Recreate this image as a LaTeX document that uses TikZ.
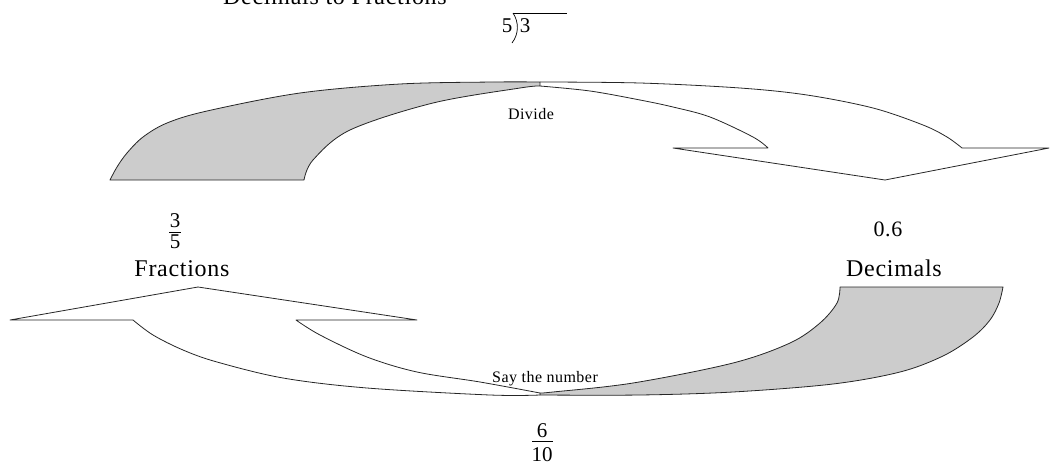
\documentclass[tikz,border=0pt]{standalone}
\usepackage{fontspec}
\setmainfont{Liberation Serif}
\newfontfamily\bigfam[LetterSpace=3]{Liberation Serif}
\newfontfamily\smallfam[LetterSpace=3]{Liberation Serif}
\definecolor{shade}{HTML}{CCCCCC}
\begin{document}
\begin{tikzpicture}[x=1pt,y=-1pt,
  outline/.style={draw=black!85, line width=0.8pt, line join=round},
  shaded/.style={outline, fill=shade},
  word/.style={font=\bigfam\fontsize{24}{28}\selectfont, inner sep=0pt, anchor=base},
  digit/.style={font=\bigfam\fontsize{22}{26}\selectfont, inner sep=0pt, anchor=base},
  plain/.style={font=\rmfamily\fontsize{21}{25}\selectfont, inner sep=0pt, anchor=base},
  smalltxt/.style={font=\smallfam\fontsize{16}{19}\selectfont, inner sep=0pt, anchor=base},
  fracbar/.style={draw=black, line width=0.8pt}]
\useasboundingbox (0,0) rectangle (1050,464);
\clip (0,0) rectangle (1050,464);

% top arrow: shaded back part
\path[shaded] plot[smooth,tension=0.55] coordinates {(110,180) (117,167) (127,153) (143,137) (167,123) (207,111) (300,93) (400,84) (493,82) (540,82)}
  -- plot[smooth,tension=0.55] coordinates {(540,86) (520,88) (433,103) (350,130) (313,160) (304,180)} -- cycle;
% top arrow: front part with head
\path[outline] plot[smooth,tension=0.55] coordinates {(540,82) (640,83) (740,88) (807,95) (873,108) (923,125) (947,137) (962,148)}
  -- (1049,148) -- (885,180) -- (673,148) -- (768,148)
  -- plot[smooth,tension=0.55] coordinates {(768,148) (753,137) (710,117) (673,107) (640,100) (590,91) (540,86)};

% bottom arrow: shaded back part
\path[shaded] plot[smooth,tension=0.55] coordinates {(540,393) (553,392) (633,383) (733,363) (790,343) (820,323) (837,303) (840,287)}
  -- (1003,287)
  -- plot[smooth,tension=0.55] coordinates {(1003,287) (999,303) (990,320) (973,337) (943,356) (900,372) (833,384) (733,392) (640,395) (540,395)} -- cycle;
% bottom arrow: front part with head
\path[outline] plot[smooth,tension=0.55] coordinates {(540,395) (490,395) (367,388) (283,378) (217,362) (183,350) (153,335) (133,320)}
  -- (10,320) -- (198,287) -- (417,320) -- (296,320)
  -- plot[smooth,tension=0.55] coordinates {(296,320) (320,335) (367,357) (417,372) (480,382) (540,393)};

% labels
\node[word] (title) at (335,4) {Decimals to Fractions};
\node[plain] (div5) at (507,32) {5};
\node[plain] (div3) at (525,32) {3};
\coordinate (brtop) at (513,13);
\coordinate (brbot) at (512,43);
\coordinate (ovend) at (567,13);
\draw[line width=0.7pt] (brtop) .. controls (519,22) and (519,34) .. (brbot);
\draw[line width=0.7pt] (brtop) -- (ovend);

\node[smalltxt] (divide) at (531,119) {Divide};
\node[smalltxt] (say) at (545,382) {Say the number};

\node[plain] (num35) at (175,227) {3};
\node[plain] (den35) at (175,248) {5};
\draw[fracbar] (169,232) -- (181,232);
\node[word] (fractions) at (182,276) {Fractions};

\node[digit] (dec) at (888,236) {0.6};
\node[word] (decimals) at (894,276) {Decimals};

\node[plain] (num610) at (542,437) {6};
\node[plain] (den610) at (542,461) {10};
\draw[fracbar] (532,441) -- (553,441);
\end{tikzpicture}
\end{document}
